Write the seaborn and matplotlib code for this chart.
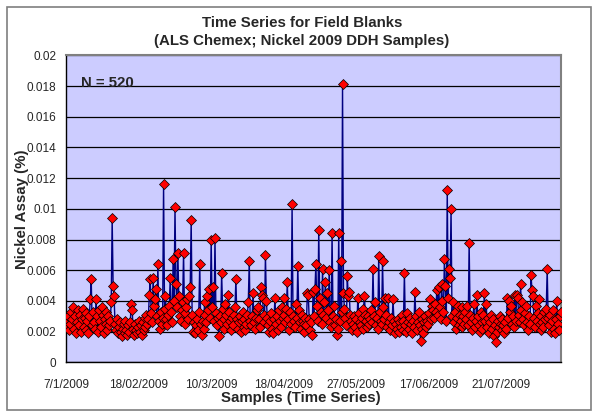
import numpy as np
import pandas as pd
import matplotlib
matplotlib.use("Agg")
import matplotlib.pyplot as plt
import seaborn as sns
from matplotlib.patches import Rectangle

# ---- data ----
nickel_assay = [
    0.0027, 0.0023, 0.0030, 0.0021, 0.0025, 0.0033, 0.0028, 0.0036, 0.0022, 0.0030,
    0.0019, 0.0026, 0.0034, 0.0024, 0.0031, 0.0020, 0.0028, 0.0035, 0.0023, 0.0029,
    0.0021, 0.0032, 0.0027, 0.0019, 0.0030, 0.0041, 0.0054, 0.0024, 0.0033, 0.0026,
    0.0022, 0.0041, 0.0030, 0.0020, 0.0034, 0.0027, 0.0023, 0.0036, 0.0031, 0.0019,
    0.0028, 0.0033, 0.0025, 0.0021, 0.0030, 0.0024, 0.0027, 0.0039, 0.0094, 0.0050,
    0.0043, 0.0025, 0.0021, 0.0028, 0.0019, 0.0023, 0.0026, 0.0020, 0.0017, 0.0022,
    0.0025, 0.0019, 0.0027, 0.0021, 0.0018, 0.0024, 0.0020, 0.0026, 0.0038, 0.0034,
    0.0022, 0.0018, 0.0025, 0.0021, 0.0019, 0.0023, 0.0027, 0.0020, 0.0024, 0.0018,
    0.0026, 0.0021, 0.0029, 0.0023, 0.0031, 0.0025, 0.0028, 0.0044, 0.0054, 0.0032,
    0.0026, 0.0055, 0.0037, 0.0041, 0.0048, 0.0030, 0.0064, 0.0027, 0.0022, 0.0033,
    0.0025, 0.0029, 0.0116, 0.0035, 0.0043, 0.0028, 0.0024, 0.0031, 0.0037, 0.0055,
    0.0033, 0.0026, 0.0067, 0.0040, 0.0101, 0.0051, 0.0036, 0.0071, 0.0043, 0.0030,
    0.0027, 0.0034, 0.0039, 0.0071, 0.0032, 0.0025, 0.0036, 0.0041, 0.0028, 0.0043,
    0.0049, 0.0093, 0.0031, 0.0020, 0.0026, 0.0019, 0.0024, 0.0028, 0.0021, 0.0033,
    0.0064, 0.0025, 0.0018, 0.0027, 0.0022, 0.0039, 0.0031, 0.0026, 0.0043, 0.0034,
    0.0048, 0.0029, 0.0080, 0.0036, 0.0049, 0.0027, 0.0081, 0.0032, 0.0024, 0.0029,
    0.0017, 0.0030, 0.0026, 0.0058, 0.0035, 0.0028, 0.0022, 0.0038, 0.0031, 0.0025,
    0.0044, 0.0033, 0.0027, 0.0021, 0.0029, 0.0024, 0.0031, 0.0036, 0.0054, 0.0028,
    0.0022, 0.0026, 0.0030, 0.0020, 0.0027, 0.0033, 0.0023, 0.0028, 0.0021, 0.0025,
    0.0031, 0.0039, 0.0066, 0.0027, 0.0024, 0.0030, 0.0045, 0.0026, 0.0022, 0.0029,
    0.0034, 0.0036, 0.0028, 0.0023, 0.0049, 0.0044, 0.0042, 0.0031, 0.0026, 0.0070,
    0.0040, 0.0029, 0.0024, 0.0020, 0.0027, 0.0032, 0.0022, 0.0019, 0.0028, 0.0042,
    0.0025, 0.0030, 0.0021, 0.0034, 0.0027, 0.0023, 0.0036, 0.0029, 0.0042, 0.0031,
    0.0026, 0.0035, 0.0052, 0.0028, 0.0021, 0.0033, 0.0025, 0.0103, 0.0030, 0.0027,
    0.0023, 0.0038, 0.0029, 0.0063, 0.0034, 0.0026, 0.0022, 0.0031, 0.0027, 0.0020,
    0.0025, 0.0029, 0.0024, 0.0045, 0.0044, 0.0028, 0.0021, 0.0026, 0.0018, 0.0046,
    0.0030, 0.0048, 0.0064, 0.0037, 0.0027, 0.0086, 0.0042, 0.0033, 0.0025, 0.0061,
    0.0031, 0.0039, 0.0052, 0.0029, 0.0045, 0.0034, 0.0060, 0.0026, 0.0023, 0.0084,
    0.0030, 0.0037, 0.0024, 0.0028, 0.0018, 0.0022, 0.0084, 0.0027, 0.0066, 0.0033,
    0.0181, 0.0045, 0.0035, 0.0029, 0.0024, 0.0056, 0.0043, 0.0046, 0.0031, 0.0027,
    0.0021, 0.0025, 0.0030, 0.0023, 0.0028, 0.0020, 0.0042, 0.0032, 0.0026, 0.0024,
    0.0029, 0.0022, 0.0035, 0.0043, 0.0031, 0.0027, 0.0023, 0.0030, 0.0025, 0.0028,
    0.0034, 0.0026, 0.0061, 0.0030, 0.0039, 0.0024, 0.0029, 0.0022, 0.0069, 0.0033,
    0.0027, 0.0025, 0.0066, 0.0036, 0.0028, 0.0042, 0.0031, 0.0023, 0.0042, 0.0026,
    0.0021, 0.0029, 0.0024, 0.0041, 0.0027, 0.0019, 0.0025, 0.0022, 0.0028, 0.0020,
    0.0026, 0.0023, 0.0031, 0.0021, 0.0027, 0.0058, 0.0024, 0.0020, 0.0032, 0.0026,
    0.0022, 0.0029, 0.0025, 0.0019, 0.0027, 0.0023, 0.0046, 0.0030, 0.0021, 0.0026,
    0.0033, 0.0024, 0.0014, 0.0028, 0.0022, 0.0019, 0.0026, 0.0030, 0.0023, 0.0027,
    0.0025, 0.0032, 0.0041, 0.0028, 0.0037, 0.0034, 0.0029, 0.0038, 0.0033, 0.0047,
    0.0031, 0.0049, 0.0036, 0.0028, 0.0051, 0.0040, 0.0033, 0.0067, 0.0050, 0.0027,
    0.0112, 0.0042, 0.0061, 0.0055, 0.0100, 0.0030, 0.0039, 0.0026, 0.0033, 0.0022,
    0.0029, 0.0037, 0.0024, 0.0031, 0.0027, 0.0036, 0.0023, 0.0030, 0.0025, 0.0033,
    0.0028, 0.0037, 0.0024, 0.0078, 0.0031, 0.0026, 0.0021, 0.0029, 0.0038, 0.0023,
    0.0027, 0.0044, 0.0030, 0.0024, 0.0020, 0.0033, 0.0026, 0.0022, 0.0031, 0.0045,
    0.0027, 0.0038, 0.0023, 0.0029, 0.0019, 0.0026, 0.0031, 0.0022, 0.0028, 0.0017,
    0.0024, 0.0013, 0.0020, 0.0027, 0.0023, 0.0030, 0.0025, 0.0021, 0.0028, 0.0024,
    0.0019, 0.0026, 0.0022, 0.0042, 0.0029, 0.0040, 0.0033, 0.0037, 0.0025, 0.0030,
    0.0023, 0.0044, 0.0027, 0.0044, 0.0042, 0.0031, 0.0026, 0.0051, 0.0034, 0.0039,
    0.0028, 0.0024, 0.0032, 0.0037, 0.0026, 0.0021, 0.0030, 0.0025, 0.0057, 0.0047,
    0.0043, 0.0029, 0.0023, 0.0037, 0.0027, 0.0032, 0.0041, 0.0025, 0.0021, 0.0030,
    0.0026, 0.0023, 0.0033, 0.0028, 0.0035, 0.0061, 0.0029, 0.0024, 0.0031, 0.0020,
    0.0027, 0.0034, 0.0022, 0.0019, 0.0028, 0.0040, 0.0025, 0.0021, 0.0030, 0.0033,
]
date_labels = ["7/1/2009", "18/02/2009", "10/3/2009", "18/04/2009",
               "27/05/2009", "17/06/2009", "21/07/2009"]
date_label_samples = [0, 76, 152, 228, 304, 380, 456]
y_tick_values = [0, 0.002, 0.004, 0.006, 0.008, 0.01, 0.012, 0.014, 0.016, 0.018, 0.02]
title_text = "Time Series for Field Blanks\n(ALS Chemex; Nickel 2009 DDH Samples)"
n_text = "N = 520"

sns.set_style("white")
plt.rcParams['font.family'] = ['Liberation Sans', 'DejaVu Sans']

W, H = 600, 413
fig = plt.figure(figsize=(W / 100, H / 100), dpi=100)
fig.patch.set_facecolor("white")

# outer chart border
fig.add_artist(Rectangle((7 / W, 3 / H), (591 - 7) / W, (406 - 3) / H,
                         transform=fig.transFigure, fill=False,
                         edgecolor="#7f7f7f", linewidth=1.2))

left, right, top, bottom = 66, 561, 55.3, 362.3
ax = fig.add_axes([left / W, 1 - bottom / H, (right - left) / W, (bottom - top) / H])
ax.set_facecolor("#CCCCFF")

df = pd.DataFrame({"sample": np.arange(len(nickel_assay)), "assay": nickel_assay})
sns.lineplot(data=df, x="sample", y="assay", ax=ax, color="#000080", linewidth=1.0,
             marker="D", markersize=4.8, markerfacecolor="#FF0000",
             markeredgecolor="#000000", markeredgewidth=0.5, zorder=3)

ax.set_xlim(-0.5, len(nickel_assay) - 0.5)
ax.set_ylim(0, 0.02)
ax.set_yticks(y_tick_values)
ax.set_yticklabels([f"{round(v, 3):g}" for v in y_tick_values], fontsize=8.5)
ax.yaxis.grid(True, color="#000000", linewidth=0.9)
ax.xaxis.grid(False)
ax.set_axisbelow(True)

ax.set_xticks(date_label_samples)
ax.set_xticklabels(date_labels, fontsize=8.5)
ax.set_xticks(np.arange(-0.5, len(nickel_assay), 1), minor=True)
ax.tick_params(axis="x", which="minor", length=3, width=0.5, color="black", direction="out")
ax.tick_params(axis="x", which="major", length=3, width=0.5, color="black", pad=9)
ax.tick_params(axis="y", which="major", length=4, width=0.8, color="black", direction="out", pad=3)

for side in ["left", "bottom"]:
    ax.spines[side].set_color("black")
    ax.spines[side].set_linewidth(1.0)
for side in ["top", "right"]:
    ax.spines[side].set_color("#808080")
    ax.spines[side].set_linewidth(1.5)

ax.set_xlabel("")
ax.set_ylabel("")
fig.text(301 / W, 1 - 398 / H, "Samples (Time Series)", ha="center", va="center",
         fontsize=10.8, fontweight="bold")
fig.text(22 / W, 1 - 209 / H, "Nickel Assay (%)", ha="center", va="center",
         rotation=90, fontsize=10.8, fontweight="bold")
fig.text(302 / W, 1 - 32 / H, title_text, ha="center", va="center",
         fontsize=10.8, fontweight="bold", linespacing=1.3)
ax.text(0.03, 0.91, n_text, transform=ax.transAxes, ha="left", va="center",
        fontsize=10.8, fontweight="bold")

fig.savefig("out.png", dpi=100, facecolor="white")
